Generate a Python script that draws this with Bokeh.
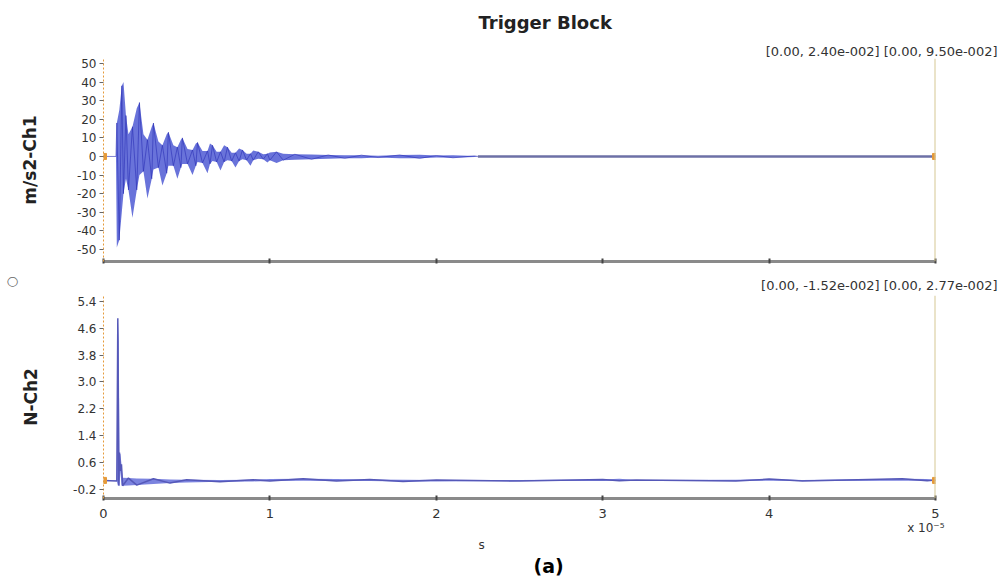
from bokeh.plotting import figure
from bokeh.layouts import column
from bokeh.models import Span, FixedTicker, NumeralTickFormatter, Title
from bokeh.embed import file_html
from bokeh.resources import INLINE

# ---- Data (time in units of 1e-5 s) ----
ch1_t = [0.000, 0.075, 0.080, 0.095, 0.110, 0.120, 0.135, 0.150, 0.174, 0.200,
         0.216, 0.240, 0.264, 0.290, 0.300, 0.330, 0.354, 0.380, 0.390, 0.420,
         0.444, 0.465, 0.474, 0.505, 0.535, 0.555, 0.565, 0.595, 0.625, 0.640,
         0.655, 0.680, 0.703, 0.725, 0.745, 0.770, 0.793, 0.815, 0.835, 0.860,
         0.883, 0.900, 0.930, 0.960, 0.985, 1.000, 1.040, 1.080, 1.150, 1.250,
         1.350, 1.450, 1.550, 1.650, 1.780, 1.900, 2.000, 2.100, 2.230, 2.250]
ch1_hi = [0.0, 0.0, 18.0, 25.0, 38.0, 40.0, 22.0, 12.0, 16.0, 26.0,
          29.0, 12.0, 9.0, 16.0, 18.0, 8.0, 6.0, 12.0, 13.0, 6.0,
          5.0, 9.0, 10.0, 4.0, 3.5, 7.0, 7.5, 3.0, 3.0, 7.0,
          6.0, 2.5, 2.5, 6.0, 5.0, 2.0, 2.0, 4.3, 3.5, 1.5,
          1.5, 3.2, 2.5, 1.2, 1.5, 2.2, 2.5, 1.5, 1.2, 1.0,
          0.8, 0.6, 0.7, 0.4, 0.8, 0.9, 0.5, 0.6, 0.3, 0.0]
ch1_lo = [0.0, 0.0, -49.0, -45.0, -30.0, -20.0, -12.0, -18.0, -33.0, -18.0,
          -10.0, -8.0, -22.6, -12.0, -7.0, -6.0, -15.6, -9.0, -5.0, -5.0,
          -12.0, -6.0, -4.0, -4.0, -10.0, -5.0, -3.0, -3.5, -9.0, -4.0,
          -2.5, -3.0, -7.5, -3.0, -2.0, -2.5, -6.0, -2.5, -1.5, -2.0,
          -5.0, -2.0, -1.2, -1.5, -3.2, -2.0, -3.5, -2.0, -1.8, -1.5,
          -1.2, -1.0, -0.9, -0.6, -1.0, -1.0, -0.6, -0.7, -0.3, 0.0]
ch1_flat_t = [2.250, 5.000]
ch1_flat_v = [0.0, 0.0]

ch2_t = [0.000, 0.080, 0.086, 0.092, 0.096, 0.102, 0.108, 0.115, 0.150, 0.200,
         0.300, 0.400, 0.500, 0.700, 0.900, 1.000, 1.200, 1.400, 1.600, 1.800,
         2.000, 2.500, 3.000, 3.100, 3.200, 3.800, 4.000, 4.200, 4.800, 4.950, 5.000]
ch2_hi = [0.07, 0.07, 4.89, 4.20, 0.90, 0.85, 0.55, 0.15, 0.14, 0.13,
          0.12, 0.10, 0.09, 0.08, 0.09, 0.11, 0.12, 0.11, 0.10, 0.09,
          0.08, 0.08, 0.10, 0.12, 0.08, 0.09, 0.11, 0.08, 0.12, 0.11, 0.08]
ch2_lo = [0.07, 0.05, -0.08, -0.08, -0.10, 0.35, -0.08, -0.09, -0.08, -0.07,
          -0.04, -0.01, 0.01, 0.03, 0.04, 0.05, 0.06, 0.05, 0.05, 0.04,
          0.04, 0.05, 0.05, 0.06, 0.05, 0.05, 0.06, 0.05, 0.06, 0.06, 0.06]

cursor_t = [0.0, 5.0]
cursor_ch1 = [0.0, 0.0]
cursor_ch2 = [0.07, 0.07]

x_ticks = [0, 1, 2, 3, 4, 5]
ch1_ticks = [-50, -40, -30, -20, -10, 0, 10, 20, 30, 40, 50]
ch2_ticks = [-0.2, 0.6, 1.4, 2.2, 3.0, 3.8, 4.6, 5.4]

title_text = "Trigger Block"
ch1_label = "m/s2-Ch1"
ch2_label = "N-Ch2"
ch1_cursor_text = "[0.00, 2.40e-002] [0.00, 9.50e-002]"
ch2_cursor_text = "[0.00, -1.52e-002] [0.00, 2.77e-002]"
x_unit_text = "s"
x_scale_text = "x 10⁻⁵"
panel_text = "(a)"

FONT = "DejaVu Sans"
BLUE_FILL = "#4f5ad4"
BLUE_LINE = "#2b30b5"
ORANGE = "#e59a3a"
CURSOR_R = "#d6c794"


def zigzag(t, hi, lo):
    ys = [hi[i] if i % 2 == 0 else lo[i] for i in range(len(t))]
    return list(t), ys


def style(p, ticks, label, fmt, label_standoff):
    p.xgrid.visible = False
    p.ygrid.visible = False
    p.outline_line_color = None
    p.background_fill_color = "white"
    p.border_fill_color = "white"
    xa = p.xaxis[0]
    xa.ticker = FixedTicker(ticks=x_ticks)
    xa.axis_line_color = "#8a8a8a"
    xa.axis_line_width = 3
    xa.major_tick_line_color = "#444444"
    xa.major_tick_line_width = 2
    xa.major_tick_in = 3
    xa.major_tick_out = 2
    xa.minor_tick_line_color = None
    xa.major_label_text_font = FONT
    xa.major_label_text_font_size = "13px"
    xa.major_label_text_color = "#333333"
    xa.major_label_standoff = 8
    ya = p.yaxis[0]
    ya.ticker = FixedTicker(ticks=ticks)
    ya.formatter = NumeralTickFormatter(format=fmt)
    ya.axis_line_color = ORANGE
    ya.axis_line_dash = "2 2"
    ya.axis_line_width = 1
    ya.major_tick_line_color = "#666666"
    ya.major_tick_in = 0
    ya.major_tick_out = 4
    ya.minor_tick_line_color = None
    ya.major_label_text_font = FONT
    ya.major_label_text_font_size = "12px"
    ya.major_label_text_color = "#333333"
    ya.major_label_standoff = 3
    ya.axis_label = label
    ya.axis_label_text_font = FONT
    ya.axis_label_text_font_style = "bold"
    ya.axis_label_text_font_size = "17px"
    ya.axis_label_text_color = "#222222"
    ya.axis_label_standoff = label_standoff


def title(text, align, offset, size, standoff, bold=False, vertical_align="bottom",
          color="#333333"):
    return Title(text=text, align=align, offset=offset, standoff=standoff,
                 vertical_align=vertical_align, text_font=FONT,
                 text_font_size=size, text_font_style="bold" if bold else "normal",
                 text_color=color)


# ---- Top figure ----
p1 = figure(width=1000, height=270, x_range=(0, 5), y_range=(-56.5, 52.7),
            output_backend="svg", toolbar_location=None, title=None,
            min_border_left=103, min_border_right=65, min_border_top=58, min_border_bottom=9)
style(p1, ch1_ticks, ch1_label, "0", 34)
p1.xaxis[0].major_label_text_font_size = "1px"
p1.xaxis[0].major_label_text_color = None
p1.xaxis[0].major_label_standoff = 0

p1.varea(x=ch1_t, y1=ch1_lo, y2=ch1_hi, fill_color=BLUE_FILL, fill_alpha=0.85)
zx, zy = zigzag(ch1_t, ch1_hi, ch1_lo)
p1.line(zx, zy, line_color=BLUE_LINE, line_width=1.0, line_alpha=0.6)
p1.line(ch1_flat_t, ch1_flat_v, line_color="#6d70a6", line_width=2.5)
p1.add_layout(Span(location=5, dimension="height", line_color=CURSOR_R, line_width=2))
p1.scatter(cursor_t, cursor_ch1, marker="square", size=6, color=ORANGE)

p1.add_layout(title(ch1_cursor_text, "right", -62, "13px", 0), "above")
p1.add_layout(title(title_text, "left", 375, "18px", 18, bold=True, color="#222222"), "above")

# ---- Bottom figure ----
p2 = figure(width=1000, height=308, x_range=(0, 5), y_range=(-0.468, 5.57),
            output_backend="svg", toolbar_location=None, title=None,
            min_border_left=103, min_border_right=65, min_border_top=25, min_border_bottom=80)
style(p2, ch2_ticks, ch2_label, "0.0", 29)

p2.varea(x=ch2_t, y1=ch2_lo, y2=ch2_hi, fill_color=BLUE_FILL, fill_alpha=0.75)
zx2, zy2 = zigzag(ch2_t, ch2_hi, ch2_lo)
p2.line(zx2, zy2, line_color="#5558b8", line_width=1.5)
p2.add_layout(Span(location=5, dimension="height", line_color=CURSOR_R, line_width=2))
p2.scatter(cursor_t, cursor_ch2, marker="square", size=6, color=ORANGE)

p2.add_layout(title(ch2_cursor_text, "right", -62, "13px", 6), "above")
p2.add_layout(title("○", "right", -19, "13px", 0, bold=True, color="#666666"), "left")
p2.add_layout(title(x_scale_text, "right", -9, "12px", 0, vertical_align="top"), "below")
p2.add_layout(title(x_unit_text, "left", 375, "12px", 2, vertical_align="top"), "below")
p2.add_layout(title(panel_text, "left", 430, "19px", 0, bold=True, vertical_align="top",
                    color="#000000"), "below")

layout = column(p1, p2, spacing=0)
open("out.html", "w").write(file_html(layout, INLINE))
